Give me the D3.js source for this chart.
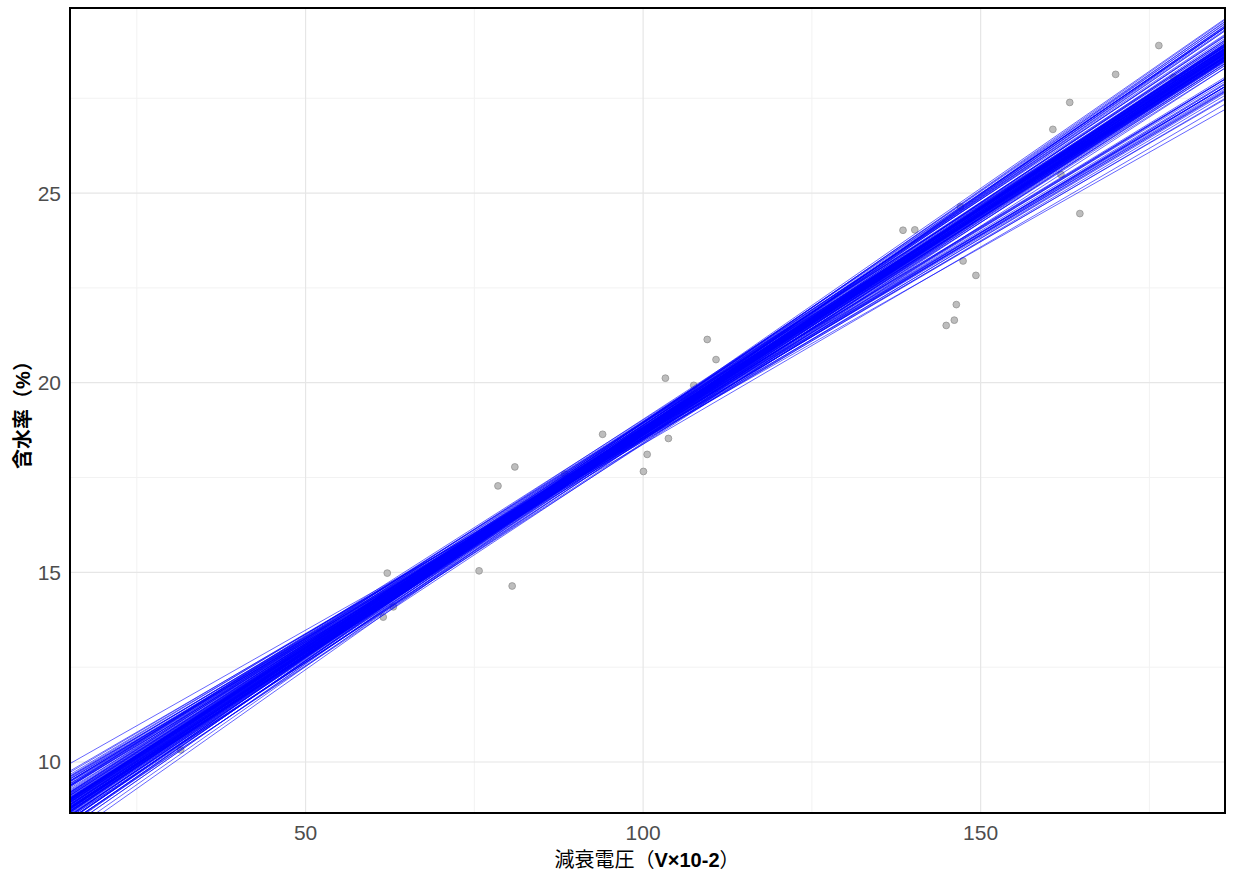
<!DOCTYPE html>
<html>
<head>
<meta charset="utf-8">
<script src="https://cdn.jsdelivr.net/npm/d3@7"></script>
<style>
  body { margin: 0; background: #fff; }
</style>
</head>
<body>
<svg width="1235" height="882"></svg>
<script>
// observed points (減衰電圧, 含水率)
var pt_x = [31.5, 61.5, 62.1, 63.0, 75.7, 78.5, 80.6, 81.0, 88.4, 94.0, 100.05, 100.6, 103.3, 103.75,
            107.5, 109.5, 110.8, 138.5, 140.25, 144.9, 146.1, 146.4, 147.0, 147.4, 149.3, 160.7,
            161.9, 163.2, 164.7, 170.0, 176.4, 178.6];
var pt_y = [10.32, 13.82, 14.98, 14.09, 15.04, 17.28, 14.64, 17.78, 17.59, 18.64, 17.66, 18.11, 20.12, 18.53,
            19.93, 21.14, 20.61, 24.02, 24.03, 21.51, 21.65, 22.06, 24.64, 23.21, 22.83, 26.68,
            25.49, 27.39, 24.46, 28.13, 28.89, 28.05];

// bootstrap regression lines: fitted value at x = 80 and slope
var fit_at80 = [
  // steep group
  16.35, 16.45, 16.30, 16.50, 16.40, 16.25, 16.52, 16.38, 16.48, 16.32, 16.42, 16.28, 16.56, 16.20, 16.44, 16.36,
  // main group
  16.40, 16.35, 16.45, 16.50, 16.30, 16.38, 16.42, 16.48, 16.33, 16.55, 16.28, 16.44, 16.36, 16.52,
  16.40, 16.25, 16.46, 16.32, 16.58, 16.39, 16.43, 16.37, 16.49, 16.34, 16.54, 16.41, 16.29, 16.47,
  16.36, 16.51, 16.27, 16.44, 16.39, 16.56, 16.31, 16.45, 16.35, 16.50, 16.42, 16.38, 16.60, 16.26,
  16.47, 16.33, 16.53, 16.40, 16.29, 16.46, 16.37, 16.43,
  16.10, 16.70, 16.15, 16.68, 16.08, 16.72, 16.18, 16.64, 16.12, 16.75, 16.20, 16.62, 16.05, 16.66,
  16.22, 16.58, 16.14, 16.70, 16.24, 16.60,
  16.38, 16.44, 16.32, 16.50, 16.41, 16.36, 16.47, 16.30, 16.53, 16.39, 16.45, 16.34, 16.49, 16.42,
  16.28, 16.46, 16.37, 16.51, 16.33, 16.43, 16.40, 16.48, 16.35, 16.55, 16.31, 16.44, 16.39, 16.52,
  16.36, 16.47, 16.41, 16.29, 16.45, 16.38, 16.50, 16.34, 16.43, 16.48, 16.37, 16.42,
  // flat group
  16.45, 16.40, 16.50, 16.35, 16.55, 16.42, 16.48, 16.38, 16.52, 16.32, 16.46, 16.58, 16.40, 16.50,
  16.36, 16.44, 16.54, 16.30, 16.48, 16.41, 16.56, 16.34, 16.47, 16.39,
  16.50
];
var slope = [
  0.1225, 0.1230, 0.1235, 0.1220, 0.1240, 0.1245, 0.1210, 0.1215, 0.1235, 0.1220, 0.1222, 0.1232, 0.1205, 0.1255, 0.1212, 0.1228,
  0.1150, 0.1160, 0.1140, 0.1145, 0.1170, 0.1155, 0.1165, 0.1135, 0.1180, 0.1130, 0.1185, 0.1175, 0.1142, 0.1158,
  0.1190, 0.1195, 0.1125, 0.1148, 0.1150, 0.1168, 0.1138, 0.1178, 0.1162, 0.1132, 0.1172, 0.1152, 0.1160, 0.1183,
  0.1198, 0.1128, 0.1172, 0.1146, 0.1136, 0.1160, 0.1188, 0.1170, 0.1125, 0.1190, 0.1144, 0.1182, 0.1140, 0.1150,
  0.1156, 0.1164, 0.1138, 0.1175, 0.1142, 0.1196, 0.1152, 0.1161,
  0.1160, 0.1145, 0.1172, 0.1130, 0.1150, 0.1158, 0.1185, 0.1140, 0.1192, 0.1135, 0.1166, 0.1178, 0.1176, 0.1152,
  0.1144, 0.1187, 0.1170, 0.1128, 0.1155, 0.1166,
  0.1150, 0.1142, 0.1165, 0.1138, 0.1172, 0.1156, 0.1148, 0.1178, 0.1135, 0.1162, 0.1154, 0.1168, 0.1140, 0.1176,
  0.1158, 0.1145, 0.1182, 0.1152, 0.1163, 0.1139, 0.1170, 0.1147, 0.1159, 0.1144, 0.1174, 0.1166, 0.1141, 0.1153,
  0.1180, 0.1161, 0.1149, 0.1167, 0.1137, 0.1171, 0.1157, 0.1143, 0.1179, 0.1151, 0.1164, 0.1146,
  0.1070, 0.1080, 0.1065, 0.1085, 0.1060, 0.1090, 0.1075, 0.1060, 0.1082, 0.1070, 0.1055, 0.1070, 0.1045, 0.1088,
  0.1078, 0.1062, 0.1050, 0.1040, 0.1035, 0.1068, 0.1078, 0.1058, 0.1086, 0.1074,
  0.1008
];

var x_ticks = [50, 100, 150];
var x_minor = [25, 75, 125, 175];
var y_ticks = [10, 15, 20, 25];
var y_minor = [12.5, 17.5, 22.5, 27.5];

var svg = d3.select("svg");
var pLeft = 70, pRight = 1225, pTop = 8, pBottom = 813;

var x = d3.scaleLinear().domain([15.1, 186.2]).range([pLeft, pRight]);
var y = d3.scaleLinear().domain([8.655, 29.88]).range([pBottom, pTop]);

var points = pt_x.map(function(v, i) { return { x: v, y: pt_y[i] }; });
var lines = fit_at80.map(function(c, i) { return { c: c, b: slope[i] }; });

svg.append("defs").append("clipPath").attr("id", "panel")
  .append("rect").attr("x", pLeft).attr("y", pTop)
  .attr("width", pRight - pLeft).attr("height", pBottom - pTop);

// grid
var grid = svg.append("g");
grid.selectAll("line.xmin").data(x_minor).enter().append("line")
  .attr("x1", x).attr("x2", x).attr("y1", pTop).attr("y2", pBottom)
  .attr("stroke", "#f2f2f2").attr("stroke-width", 1);
grid.selectAll("line.ymin").data(y_minor).enter().append("line")
  .attr("y1", y).attr("y2", y).attr("x1", pLeft).attr("x2", pRight)
  .attr("stroke", "#f2f2f2").attr("stroke-width", 1);
grid.selectAll("line.xmaj").data(x_ticks).enter().append("line")
  .attr("x1", x).attr("x2", x).attr("y1", pTop).attr("y2", pBottom)
  .attr("stroke", "#e6e6e6").attr("stroke-width", 1.2);
grid.selectAll("line.ymaj").data(y_ticks).enter().append("line")
  .attr("y1", y).attr("y2", y).attr("x1", pLeft).attr("x2", pRight)
  .attr("stroke", "#e6e6e6").attr("stroke-width", 1.2);

// points (under the lines)
svg.append("g").selectAll("circle").data(points).enter().append("circle")
  .attr("cx", function(d) { return x(d.x); })
  .attr("cy", function(d) { return y(d.y); })
  .attr("r", 3.4)
  .attr("fill", "#bdbdbd")
  .attr("stroke", "#8c8c8c")
  .attr("stroke-width", 0.7);

// regression lines
var x0 = x.domain()[0], x1 = x.domain()[1];
svg.append("g").attr("clip-path", "url(#panel)")
  .selectAll("line").data(lines).enter().append("line")
  .attr("x1", x(x0)).attr("x2", x(x1))
  .attr("y1", function(d) { return y(d.c + d.b * (x0 - 80)); })
  .attr("y2", function(d) { return y(d.c + d.b * (x1 - 80)); })
  .attr("stroke", "#0000ff")
  .attr("stroke-opacity", 0.6)
  .attr("stroke-width", 1);

// panel border
svg.append("rect")
  .attr("x", pLeft).attr("y", pTop)
  .attr("width", pRight - pLeft).attr("height", pBottom - pTop)
  .attr("fill", "none").attr("stroke", "#000").attr("stroke-width", 2);

// tick labels
svg.append("g").selectAll("text").data(x_ticks).enter().append("text")
  .attr("x", x).attr("y", 840)
  .attr("text-anchor", "middle")
  .attr("font-family", "Liberation Sans, Arial, sans-serif")
  .attr("font-size", 21).attr("fill", "#4d4d4d")
  .text(function(d) { return d; });

svg.append("g").selectAll("text").data(y_ticks).enter().append("text")
  .attr("x", 61).attr("y", function(d) { return y(d) + 7.5; })
  .attr("text-anchor", "end")
  .attr("font-family", "Liberation Sans, Arial, sans-serif")
  .attr("font-size", 21).attr("fill", "#4d4d4d")
  .text(function(d) { return d; });

// axis titles
var xt = svg.append("text")
  .attr("x", 647).attr("y", 867)
  .attr("text-anchor", "middle")
  .attr("font-size", 20).attr("fill", "#000");
xt.append("tspan").attr("font-family", "Noto Sans CJK JP").text("減衰電圧（");
xt.append("tspan").attr("font-family", "Liberation Sans, Arial").attr("font-weight", "bold").text("V×10-2");
xt.append("tspan").attr("font-family", "Noto Sans CJK JP").text("）");

var yt = svg.append("text")
  .attr("transform", "translate(30,410) rotate(-90)")
  .attr("text-anchor", "middle")
  .attr("font-size", 20).attr("fill", "#000");
yt.append("tspan").attr("font-family", "Noto Sans CJK JP").attr("font-weight", "bold").text("含水率（");
yt.append("tspan").attr("font-family", "Liberation Sans, Arial").attr("font-weight", "bold").text("%");
yt.append("tspan").attr("font-family", "Noto Sans CJK JP").attr("font-weight", "bold").text("）");
</script>
</body>
</html>
